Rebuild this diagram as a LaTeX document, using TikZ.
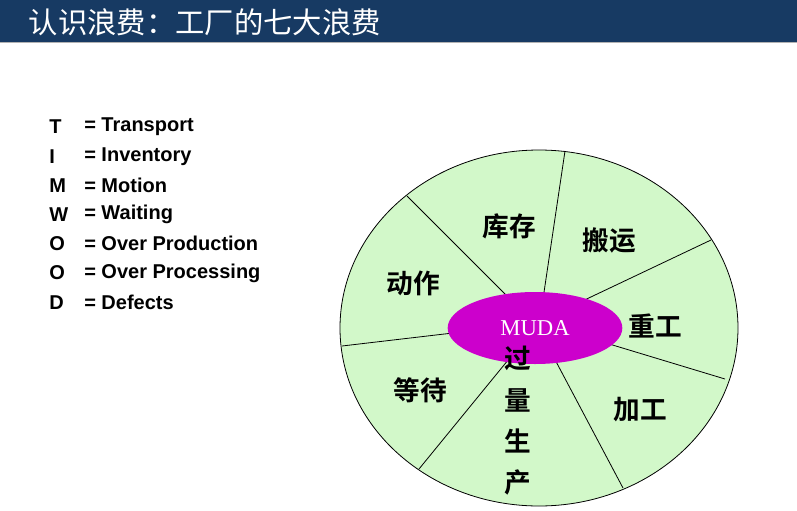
\documentclass[tikz,border=0pt]{standalone}
\usepackage{fontspec}
\setmainfont{Liberation Sans}
\newfontfamily\cjk{Noto Sans CJK SC}
\newfontfamily\cjkbold{Noto Sans CJK SC Bold}
\newfontfamily\mudafont{Liberation Serif}
\usetikzlibrary{shapes.geometric}
\definecolor{barblue}{HTML}{173A63}
\definecolor{wheelgreen}{HTML}{D2F8C9}
\definecolor{mudapink}{HTML}{CC00CC}
\tikzset{
  waste/.style={font=\cjkbold\fontsize{20}{22}\selectfont, inner sep=0pt},
  legend/.style={font=\bfseries\fontsize{15}{17}\selectfont, anchor=west, inner sep=0pt},
  spoke/.style={black, line width=0.6pt}
}
\begin{document}
\begin{tikzpicture}[x=0.75pt, y=-0.75pt]
\useasboundingbox (0,0) rectangle (797,511);
\fill[barblue] (0,0) rectangle (797,42);
\draw[gray!60, line width=1pt] (0,42.5) -- (797,42.5);
\node[anchor=west, text=white, font=\cjk\fontsize{22}{24}\selectfont] (title) at (24,22) {认识浪费：工厂的七大浪费};

% legend
\foreach \l/\t [count=\i] in {T/Transport, I/Inventory, M/Motion, W/Waiting, O/Over Production, O/Over Processing, D/Defects} {
  \node[legend] (key\i) at (49,{127+29.2*(\i-1)}) {\l};
  \node[legend] (val\i) at (84,{127+29.2*(\i-1)}) {= \t};
}

% wheel
\draw[spoke, fill=wheelgreen] (539,328) ellipse (199 and 178);
\coordinate (o1) at (407,196); \coordinate (i1) at (513,302);
\coordinate (o2) at (565,151); \coordinate (i2) at (543,299);
\coordinate (o3) at (711,240); \coordinate (i3) at (574,305);
\coordinate (o4) at (725,379); \coordinate (i4) at (596,340);
\coordinate (o5) at (623,488); \coordinate (i5) at (552,354);
\coordinate (o6) at (419,469); \coordinate (i6) at (513,354);
\coordinate (o7) at (342,346); \coordinate (i7) at (470,331);
\foreach \k in {1,...,7} \draw[spoke] (i\k) -- (o\k);
\node[ellipse, fill=mudapink, minimum width=131, minimum height=54, inner sep=0pt,
  text=white, font=\mudafont\fontsize{17}{19}\selectfont] (muda) at (535,328) {MUDA};

\node[waste] (inventory) at (509,226) {库存};
\node[waste] (transport) at (609,240) {搬运};
\node[waste] (motion) at (413,283) {动作};
\node[waste] (rework) at (655,326) {重工};
\node[waste] (waiting) at (420,390) {等待};
\node[waste] (processing) at (640,410) {加工};
\node[waste, align=center, font=\cjkbold\fontsize{20}{31}\selectfont] (overprod) at (518,421) {过\\量\\生\\产};
\end{tikzpicture}
\end{document}
